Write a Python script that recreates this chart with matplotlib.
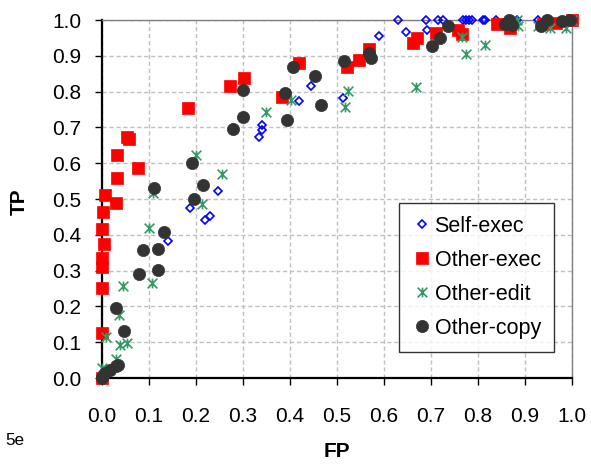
import matplotlib
matplotlib.use("Agg")
import matplotlib.pyplot as plt
from matplotlib.path import Path

plt.rcParams['font.family'] = ['Liberation Sans', 'DejaVu Sans']

# Self-exec (blue diamonds)
self_exec_x = [0.0, 0.14, 0.187, 0.219, 0.23, 0.246, 0.335, 0.34, 0.34, 0.42, 0.444, 0.512, 0.59,
               0.63, 0.647, 0.69, 0.692, 0.714, 0.725, 0.769, 0.775, 0.781, 0.787, 0.81, 0.815,
               0.838, 0.882, 0.928, 0.95, 1.0]
self_exec_y = [0.0, 0.384, 0.475, 0.441, 0.453, 0.522, 0.674, 0.693, 0.707, 0.775, 0.816, 0.781, 0.955,
               1.0, 0.966, 1.0, 0.972, 1.0, 1.0, 1.0, 1.0, 1.0, 1.0, 1.0, 1.0,
               1.0, 1.0, 1.0, 1.0, 1.0]

# Other-exec (red squares)
other_exec_x = [0.0, 0.001, 0.001, 0.001, 0.001, 0.004, 0.001, 0.003, 0.029, 0.006, 0.031, 0.076,
                0.031, 0.054, 0.058, 0.184, 0.272, 0.303, 0.382, 0.42, 0.522, 0.547, 0.569, 0.662,
                0.671, 0.71, 0.757, 0.767, 0.84, 0.868, 0.938, 0.967, 1.0]
other_exec_y = [0.0, 0.125, 0.252, 0.311, 0.334, 0.374, 0.415, 0.465, 0.49, 0.511, 0.56, 0.587,
                0.623, 0.674, 0.667, 0.754, 0.816, 0.837, 0.786, 0.879, 0.87, 0.888, 0.92, 0.935,
                0.949, 0.965, 0.971, 0.96, 0.989, 0.977, 0.99, 0.992, 1.0]

# Other-edit (green stars)
other_edit_x = [0.0, 0.0, 0.03, 0.009, 0.038, 0.053, 0.036, 0.045, 0.107, 0.099, 0.109, 0.2, 0.212,
                0.255, 0.349, 0.402, 0.518, 0.523, 0.668, 0.767, 0.774, 0.815, 0.882, 0.886, 0.928,
                0.953, 0.987, 1.0]
other_edit_y = [0.0, 0.028, 0.054, 0.114, 0.092, 0.099, 0.176, 0.257, 0.266, 0.418, 0.516, 0.623, 0.486,
                0.57, 0.744, 0.777, 0.756, 0.803, 0.812, 0.953, 0.904, 0.929, 1.0, 0.982, 0.982,
                0.977, 0.977, 1.0]

# Other-copy (dark circles)
other_copy_x = [0.0, 0.001, 0.006, 0.017, 0.03, 0.035, 0.047, 0.029, 0.079, 0.12, 0.087, 0.12, 0.132,
                0.111, 0.196, 0.192, 0.214, 0.278, 0.299, 0.299, 0.389, 0.393, 0.406, 0.453, 0.466,
                0.514, 0.569, 0.572, 0.703, 0.719, 0.737, 0.857, 0.865, 0.872, 0.935, 0.946, 0.978,
                0.996]
other_copy_y = [0.0, 0.004, 0.015, 0.022, 0.034, 0.036, 0.131, 0.195, 0.29, 0.302, 0.358, 0.36, 0.409,
                0.53, 0.499, 0.6, 0.539, 0.695, 0.73, 0.804, 0.797, 0.72, 0.868, 0.844, 0.763,
                0.886, 0.907, 0.893, 0.926, 0.949, 0.982, 0.989, 1.0, 0.986, 0.982, 1.0, 0.998,
                1.0]

ticks = [0.0, 0.1, 0.2, 0.3, 0.4, 0.5, 0.6, 0.7, 0.8, 0.9, 1.0]
tick_labels = ['0.0', '0.1', '0.2', '0.3', '0.4', '0.5', '0.6', '0.7', '0.8', '0.9', '1.0']

# X with a vertical bar, like the spreadsheet star marker
star = Path([(-1, -1), (1, 1), (-1, 1), (1, -1), (0, -1), (0, 1)],
            [Path.MOVETO, Path.LINETO, Path.MOVETO, Path.LINETO, Path.MOVETO, Path.LINETO])

fig = plt.figure(figsize=(5.91, 4.65), dpi=100)
ax = fig.add_axes([102 / 591, 1 - 378 / 465, 470 / 591, 358 / 465])

ax.plot(self_exec_x, self_exec_y, linestyle='none', marker='D', ms=4.2, mfc='none',
        mec='#0000FF', mew=1.2, clip_on=False, label='Self-exec', zorder=3)
ax.plot(other_exec_x, other_exec_y, linestyle='none', marker='s', ms=8.6, mfc='#FF0000',
        mec='#FF0000', mew=0.5, clip_on=False, label='Other-exec', zorder=4)
ax.plot(other_edit_x, other_edit_y, linestyle='none', marker=star, ms=7, mfc='none',
        mec='#339966', mew=1.2, clip_on=False, label='Other-edit', zorder=5)
ax.plot(other_copy_x, other_copy_y, linestyle='none', marker='o', ms=8.8, mfc='#333333',
        mec='#333333', mew=0.5, clip_on=False, label='Other-copy', zorder=6)

ax.set_xlim(0, 1)
ax.set_ylim(0, 1)
ax.set_xticks(ticks)
ax.set_yticks(ticks)
ax.set_xticklabels(tick_labels)
ax.set_yticklabels(tick_labels)
ax.tick_params(axis='x', direction='out', length=5, width=1, pad=16, labelsize=15)
ax.tick_params(axis='y', direction='out', length=5, width=1, pad=10, labelsize=15)

ax.grid(True, color='#c0c0c0', linestyle=(0, (3, 2)), linewidth=1)
ax.set_axisbelow(True)

for side in ['left', 'bottom']:
    ax.spines[side].set_color('black')
    ax.spines[side].set_linewidth(1.6)
for side in ['top', 'right']:
    ax.spines[side].set_color('#808080')
    ax.spines[side].set_linewidth(1.0)

fig.text(19 / 591, 1 - 202 / 465, 'TP', rotation=90, ha='center', va='center',
         fontsize=15, fontweight='bold')
fig.text(337 / 591, 1 - 451 / 465, 'FP', ha='center', va='center',
         fontsize=15, fontweight='bold')
fig.text(5 / 591, 1 - 440 / 465, '5e', ha='left', va='center', fontsize=12.3)

leg = ax.legend(loc='upper left', bbox_to_anchor=(399 / 591, 1 - 203 / 465),
                bbox_transform=fig.transFigure, fontsize=15.5, frameon=True, fancybox=False,
                handlelength=0.9, handletextpad=0.15, labelspacing=0.6, borderpad=0.6,
                borderaxespad=0, numpoints=1)
leg.get_frame().set_edgecolor('black')
leg.get_frame().set_linewidth(1.0)
leg.set_zorder(10)

fig.savefig('out.png', dpi=100)
